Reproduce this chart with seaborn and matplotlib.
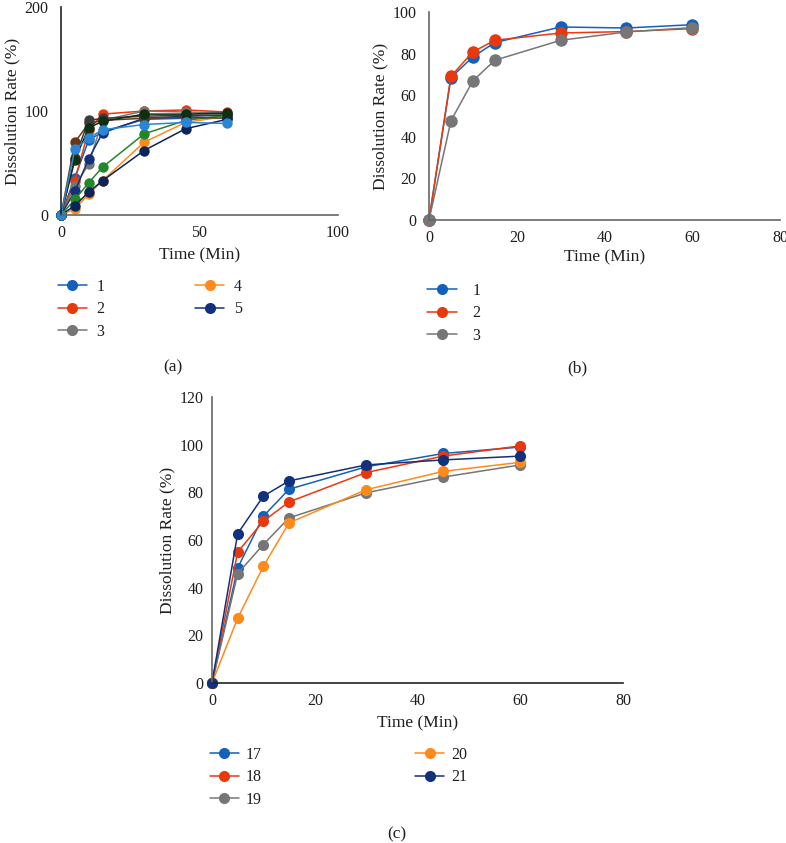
import numpy as np
import pandas as pd
import matplotlib
matplotlib.use("Agg")
import matplotlib.pyplot as plt
import seaborn as sns

# ---------------- data ----------------
time_min = [0, 5, 10, 15, 30, 45, 60]

# panel (a)
a_labels = ["1", "2", "3", "4", "5", "6", "7", "8", "9", "10", "11"]
a_s1 = [0, 36, 72, 80, 92, 93, 94]
a_s2 = [0, 33, 82, 97, 100, 101, 99]
a_s3 = [0, 28, 49, 91, 100, 99, 98]
a_s4 = [0, 6, 20, 33, 70, 89, 95]
a_s5 = [0, 23, 54, 79, 93, 95, 96]
a_s6 = [0, 15, 31, 46, 78, 91, 96]
a_s7 = [0, 70, 88, 91, 93, 94, 93]
a_s8 = [0, 55, 91, 93, 95, 96, 96]
a_s9 = [0, 9, 22, 33, 62, 83, 92]
a_s10 = [0, 53, 84, 90, 97, 97, 98]
a_s11 = [0, 63, 74, 82, 87, 89, 88]
a_series = [a_s1, a_s2, a_s3, a_s4, a_s5, a_s6, a_s7, a_s8, a_s9, a_s10, a_s11]
a_colors = ["#1461bb", "#e8390e", "#767676", "#ff8a1c", "#13307c", "#23862a",
            "#6e3510", "#3c3c3c", "#0c2558", "#0f2e12", "#2a86d4"]

# panel (b)
b_labels = ["1", "2", "3"]
b_s1 = [0, 68.5, 78.4, 85.3, 92.8, 92.3, 93.9]
b_s2 = [0, 69.1, 80.8, 86.4, 89.9, 90.6, 92.0]
b_s3 = [0, 47.7, 66.9, 76.8, 86.4, 90.4, 92.5]
b_series = [b_s1, b_s2, b_s3]
b_colors = ["#1461bb", "#e8390e", "#767676"]

# panel (c)
c_labels = ["17", "18", "19", "20", "21"]
c_s17 = [0, 48.3, 70.0, 81.3, 90.7, 96.3, 99.0]
c_s18 = [0, 55.0, 67.9, 76.0, 88.3, 95.2, 99.5]
c_s19 = [0, 45.9, 58.1, 69.3, 79.8, 86.4, 91.5]
c_s20 = [0, 27.2, 49.0, 67.2, 81.1, 88.8, 92.6]
c_s21 = [0, 62.7, 78.4, 84.8, 91.5, 93.6, 95.2]
c_series = [c_s17, c_s18, c_s19, c_s20, c_s21]
c_colors = ["#1461bb", "#e8390e", "#767676", "#ff8a1c", "#13307c"]

# ---------------- style ----------------
sns.set_theme(style="white")
plt.rcParams["font.family"] = ["Liberation Serif", "DejaVu Serif"]
plt.rcParams["axes.unicode_minus"] = False

W, H = 786, 843
fig = plt.figure(figsize=(W / 100, H / 100), dpi=100)
TXT = "#1e1e1e"


def px_axes(left, top, right, bottom):
    return fig.add_axes([left / W, 1 - bottom / H, (right - left) / W, (bottom - top) / H])


def long_df(labels, series):
    rows = []
    for lab, vals in zip(labels, series):
        for t, v in zip(time_min, vals):
            rows.append({"Time": t, "Rate": v, "Series": lab})
    return pd.DataFrame(rows)


def draw(ax, labels, series, colors, msize, xlim, xticks, ylim, yticks, lcol, bcol):
    df = long_df(labels, series)
    sns.lineplot(data=df, x="Time", y="Rate", hue="Series", hue_order=labels,
                 palette=colors, marker="o", markersize=msize, markeredgewidth=0,
                 linewidth=1.1, ax=ax, legend=False, sort=False)
    for ln in ax.lines:
        ln.set_clip_on(False)
    ax.set_xlim(*xlim)
    ax.set_ylim(*ylim)
    ax.set_xticks(xticks)
    ax.set_yticks(yticks)
    for s in ["top", "right"]:
        ax.spines[s].set_visible(False)
    ax.spines["left"].set_color(lcol)
    ax.spines["bottom"].set_color(bcol)
    for s in ["left", "bottom"]:
        ax.spines[s].set_linewidth(1.2)
    ax.tick_params(axis="both", length=0, labelsize=11.5, colors=TXT)
    ax.tick_params(axis="y", pad=9)
    ax.tick_params(axis="x", pad=7)
    ax.set_xlabel("Time (Min)", fontsize=12.5, color=TXT)
    ax.set_ylabel("Dissolution Rate (%)", fontsize=12.5, color=TXT)
    ax.grid(False)
    return ax


# panel (a)
ax_a = px_axes(61, 7, 338, 215)
draw(ax_a, a_labels, a_series, a_colors, 7.5, (0, 100), [0, 50, 100], (0, 200), [0, 100, 200],
     "#222222", "#666666")
ax_a.yaxis.set_label_coords(-0.148, 0.5)
ax_a.xaxis.set_label_coords(0.5, -0.155)

# panel (b)
ax_b = px_axes(429, 12, 780, 220)
draw(ax_b, b_labels, b_series, b_colors, 9, (0, 80), [0, 20, 40, 60, 80], (0, 100), list(range(0, 101, 20)),
     "#666666", "#666666")
ax_b.yaxis.set_label_coords(-0.115, 0.5)
ax_b.xaxis.set_label_coords(0.5, -0.14)

# panel (c)
ax_c = px_axes(212, 397, 623, 683)
draw(ax_c, c_labels, c_series, c_colors, 8, (0, 80), [0, 20, 40, 60, 80], (0, 120), list(range(0, 121, 20)),
     "#666666", "#222222")
ax_c.tick_params(axis="y", pad=6)
ax_c.yaxis.set_label_coords(-0.088, 0.5)
ax_c.xaxis.set_label_coords(0.5, -0.115)


def add_legend(ax, n, ncol, x, y, colsp, handlelen, textpad):
    handles = ax.lines[:n]
    labs = [h.get_label() for h in handles]
    proxies = []
    for h in handles:
        p = matplotlib.lines.Line2D([], [], color=h.get_color(), marker="o",
                                    markersize=8, markeredgewidth=0, linewidth=1.1)
        proxies.append(p)
    fig.legend(proxies, labs, loc="upper left", bbox_to_anchor=(x / W, 1 - y / H),
               ncol=ncol, frameon=False, fontsize=11.5, borderpad=0, borderaxespad=0,
               handlelength=handlelen, handletextpad=textpad, columnspacing=colsp,
               labelspacing=0.4, labelcolor=TXT)


for ax, labels in [(ax_a, a_labels), (ax_b, b_labels), (ax_c, c_labels)]:
    for ln, lab in zip(ax.lines, labels):
        ln.set_label(lab)

add_legend(ax_a, 5, 2, 58, 279, 5.7, 1.8, 0.6)
add_legend(ax_b, 3, 1, 427, 283, 2.0, 1.85, 1.0)
add_legend(ax_c, 5, 2, 210, 747, 9.6, 1.8, 0.45)

fig.text(173 / W, 1 - 367 / H, "(a)", ha="center", va="center", fontsize=12.5, color=TXT)
fig.text(577 / W, 1 - 368 / H, "(b)", ha="center", va="center", fontsize=12.5, color=TXT)
fig.text(397 / W, 1 - 834 / H, "(c)", ha="center", va="center", fontsize=12.5, color=TXT)

fig.savefig("out.png", dpi=100, facecolor="white")
